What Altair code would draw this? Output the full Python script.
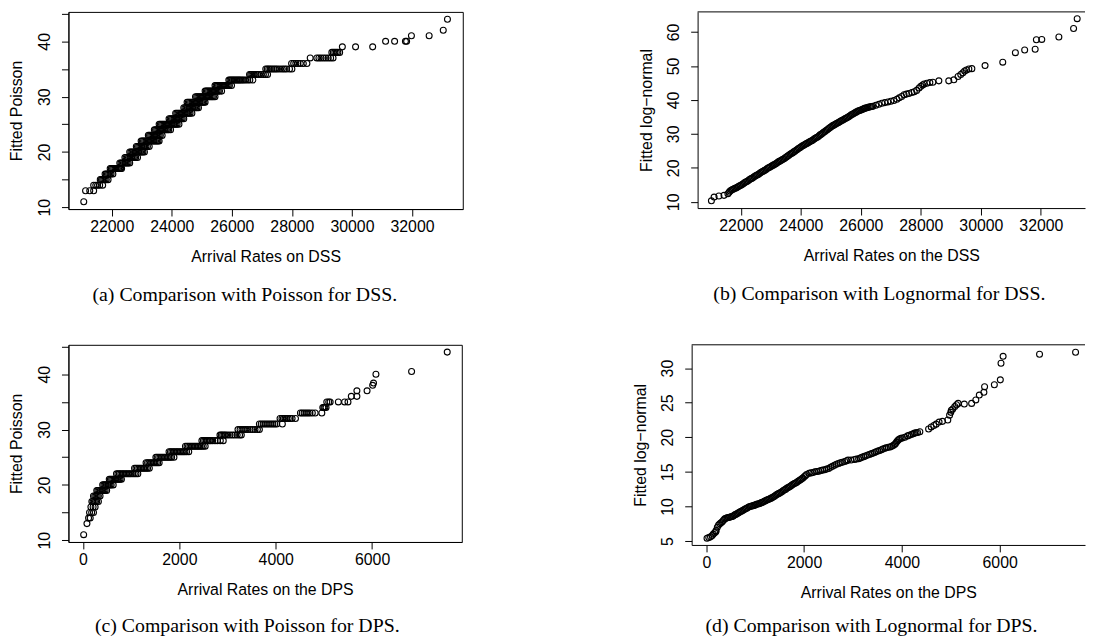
import altair as alt
import pandas as pd

SANS = "Liberation Sans"
SERIF = "Liberation Serif"

# ---------------- data ----------------
# (a) Fitted Poisson level -> arrival rates on DSS observed at that level
A_LEVELS = [11, 13, 14, 15, 16, 17, 18, 19, 20, 21, 22, 23, 24, 25, 26, 27, 28,
            29, 30, 31, 32, 33, 34, 35, 36, 37, 38, 39, 40, 41, 42, 44]
A_RATES = [
    [21070],
    [21130, 21270, 21400],
    [21400, 21470, 21530, 21600, 21700],
    [21620, 21660, 21700, 21740, 21780, 21820, 21880],
    [21780, 21820, 21860, 21900, 21940, 21980, 22040],
    [21950, 21990, 22030, 22070, 22110, 22150, 22190, 22230, 22270, 22300, 22330],
    [22270, 22310, 22350, 22390, 22430, 22470, 22510, 22550, 22600],
    [22440, 22480, 22520, 22560, 22600, 22640, 22680, 22720, 22760, 22800, 22860],
    [22600, 22640, 22680, 22720, 22760, 22800, 22840, 22880, 22920, 22960, 23000,
     23040, 23090],
    [22820, 22860, 22900, 22940, 22980, 23020, 23060, 23100, 23140, 23190, 23250],
    [22980, 23020, 23060, 23100, 23140, 23180, 23220, 23260, 23300, 23340, 23380,
     23420, 23460, 23500, 23540, 23580],
    [23220, 23260, 23300, 23340, 23380, 23420, 23460, 23500, 23540, 23580, 23620,
     23680],
    [23420, 23460, 23500, 23540, 23580, 23620, 23660, 23700, 23740, 23780, 23820,
     23860, 23900, 23960],
    [23580, 23620, 23660, 23700, 23740, 23780, 23820, 23860, 23900, 23940, 23980,
     24020, 24060, 24100, 24140, 24180, 24240],
    [23910, 23950, 23990, 24030, 24070, 24110, 24150, 24190, 24230, 24270, 24310,
     24350, 24400],
    [24130, 24170, 24210, 24250, 24290, 24330, 24370, 24410, 24450, 24490, 24530,
     24570, 24610, 24670],
    [24400, 24440, 24480, 24520, 24560, 24600, 24640, 24680, 24720, 24760, 24800,
     24840, 24890],
    [24510, 24550, 24590, 24630, 24670, 24710, 24750, 24790, 24830, 24870, 24910,
     24950, 24990, 25030, 25070, 25110],
    [24790, 24830, 24870, 24910, 24950, 24990, 25030, 25070, 25110, 25150, 25190,
     25230, 25270, 25310, 25350, 25390, 25440],
    [25110, 25150, 25190, 25230, 25270, 25310, 25350, 25390, 25430, 25470, 25510,
     25550, 25590, 25660],
    [25440, 25480, 25520, 25560, 25600, 25640, 25680, 25720, 25760, 25800, 25840,
     25880, 25920, 25990],
    [25900, 25940, 25980, 26020, 26060, 26100, 26140, 26180, 26220, 26260, 26300,
     26350, 26400, 26460, 26530, 26600, 26700],
    [26590, 26630, 26670, 26710, 26750, 26800, 26850, 26900, 26970, 27050, 27120,
     27190],
    [27130, 27180, 27230, 27280, 27340, 27400, 27460, 27520, 27600, 27680, 27750,
     27820, 27920, 28000],
    [27990, 28060, 28130, 28200, 28280, 28380, 28500],
    [28610, 28830, 28900, 28970, 29050, 29130, 29210, 29290, 29370],
    [29330, 29380, 29430, 29480, 29530, 29590],
    [29680, 30120, 30690],
    [31120, 31420, 31780, 31820],
    [31980, 32570],
    [33040],
    [33180],
]

# (b) arrival rates on the DSS vs fitted log-normal quantiles
B_RATES = [21020, 21110, 21270, 21440, 21570, 21610,
           21640, 21680, 21720, 21760, 21800, 21840, 21880, 21920, 21960, 22000,
           22040, 22080, 22120, 22160, 22200, 22240, 22280, 22320, 22360, 22400,
           22440, 22480, 22520, 22560, 22600, 22640, 22680, 22720, 22760, 22800,
           22840, 22880, 22920, 22960, 23000, 23040, 23080, 23120, 23160, 23200,
           23240, 23280, 23320, 23360, 23400, 23440, 23480, 23520, 23560, 23600,
           23640, 23680, 23720, 23760, 23800, 23840, 23880, 23920, 23960, 24000,
           24040, 24080, 24120, 24160, 24200, 24240, 24280, 24320, 24360, 24400,
           24440, 24480, 24520, 24560, 24600, 24640, 24680, 24720, 24760, 24800,
           24840, 24880, 24920, 24960, 25000, 25040, 25080, 25120, 25160, 25200,
           25240, 25280, 25320, 25360, 25400, 25440, 25480, 25520, 25560, 25600,
           25640, 25680, 25720, 25760, 25800, 25840, 25880, 25920, 25960, 26000,
           26040, 26080, 26120, 26160, 26200, 26240, 26280, 26320, 26360, 26400,
           26500, 26600, 26700, 26800, 26900, 27000, 27100, 27200, 27280, 27360,
           27440, 27520, 27600, 27700, 27780, 27860, 27940, 28000, 28060, 28110,
           28200, 28300, 28400, 28600, 28930, 29100, 29240, 29330, 29400, 29460,
           29520, 29600, 29700, 30140, 30730, 31150, 31460, 31810, 31850, 32030,
           32600, 33090, 33210]
B_FITTED = [10.3, 11.4, 11.7, 11.9, 12.4, 12.8,
            13.2, 13.4, 13.6, 13.8, 14.0, 14.1, 14.3, 14.5, 14.7, 14.9,
            15.1, 15.3, 15.6, 15.8, 16.0, 16.2, 16.5, 16.7, 16.9, 17.1,
            17.4, 17.6, 17.8, 18.0, 18.2, 18.5, 18.7, 18.9, 19.1, 19.3,
            19.5, 19.8, 20.0, 20.2, 20.4, 20.6, 20.8, 21.0, 21.2, 21.4,
            21.7, 21.9, 22.1, 22.3, 22.5, 22.7, 23.0, 23.2, 23.5, 23.7,
            24.0, 24.2, 24.4, 24.7, 24.9, 25.2, 25.4, 25.7, 25.9, 26.1,
            26.4, 26.6, 26.8, 27.0, 27.2, 27.4, 27.6, 27.8, 28.0, 28.2,
            28.5, 28.7, 28.9, 29.1, 29.4, 29.7, 29.9, 30.2, 30.5, 30.7,
            31.0, 31.2, 31.5, 31.8, 32.0, 32.3, 32.5, 32.7, 32.9, 33.1,
            33.3, 33.5, 33.7, 33.9, 34.1, 34.3, 34.5, 34.7, 34.9, 35.1,
            35.3, 35.6, 35.8, 36.0, 36.2, 36.4, 36.6, 36.8, 36.9, 37.0,
            37.2, 37.3, 37.5, 37.6, 37.7, 37.8, 37.9, 38.0, 38.05, 38.1,
            38.4, 38.7, 39.0, 39.2, 39.4, 39.6, 39.8, 40.2, 40.6, 41.0,
            41.5, 41.7, 41.9, 42.2, 42.4, 42.8, 43.5, 44.0, 44.4, 44.7,
            44.9, 45.1, 45.2, 45.6, 45.6, 45.9, 46.9, 47.5, 48.0, 48.5,
            48.8, 49.1, 49.2, 50.1, 51.1, 53.9, 54.7, 54.9, 57.7, 57.8,
            58.5, 61.0, 63.9]

# (c) Fitted Poisson level -> arrival rates on the DPS observed at that level
C_LEVELS = [11, 13, 14, 15, 16, 17, 18, 19, 20, 21, 22, 23, 24, 25, 26, 27, 28,
            29, 30, 31, 32, 33, 34, 35, 36, 37, 38, 38.4, 40, 40.5, 44]
C_RATES = [
    [14],
    [82],
    [116, 150],
    [136, 180, 218],
    [164, 210, 252],
    [184, 210, 235, 260, 285, 320],
    [218, 245, 270, 295, 320, 354],
    [286, 310, 335, 360, 385, 410, 435, 460, 491],
    [409, 435, 460, 485, 510, 535, 560, 585, 627],
    [545, 570, 595, 620, 645, 670, 695, 720, 745, 770, 798],
    [695, 725, 755, 785, 815, 845, 875, 905, 935, 965, 995, 1030, 1065, 1100, 1138],
    [1070, 1100, 1130, 1160, 1190, 1220, 1250, 1280, 1310, 1340, 1377],
    [1309, 1340, 1370, 1400, 1430, 1460, 1490, 1520, 1550, 1581],
    [1513, 1540, 1570, 1600, 1630, 1660, 1690, 1720, 1750, 1780, 1810, 1840, 1888],
    [1786, 1815, 1845, 1875, 1905, 1935, 1965, 1995, 2025, 2055, 2085, 2115, 2150,
     2195],
    [2127, 2160, 2190, 2220, 2250, 2280, 2310, 2340, 2370, 2400, 2430, 2460, 2495,
     2536],
    [2468, 2500, 2530, 2560, 2590, 2620, 2650, 2690, 2740, 2790, 2850, 2911],
    [2843, 2870, 2900, 2930, 2960, 3000, 3050, 3100, 3150, 3200, 3250, 3286],
    [3217, 3260, 3300, 3340, 3380, 3420, 3470, 3520, 3570, 3620, 3661],
    [3661, 3700, 3740, 3780, 3820, 3860, 3900, 3940, 3980, 4020, 4138],
    [4090, 4130, 4160, 4190, 4220, 4260, 4300, 4340, 4410],
    [4513, 4550, 4590, 4630, 4670, 4710, 4760, 4819, 4957],
    [4977, 5000, 5020, 5045],
    [5060, 5100, 5130, 5300, 5430, 5500],
    [5569, 5685],
    [5685, 5896],
    [6012],
    [6030],
    [6080],
    [6820],
    [7560],
]

# (d) arrival rates on the DPS vs fitted log-normal quantiles
D_RATES = [14, 50, 86, 120, 143, 170, 193,
           200, 225, 250, 275, 300, 325, 350, 375, 400, 425, 450, 475, 500, 525,
           550, 575, 600, 625, 650, 675, 700, 725, 750, 775, 800, 825, 850, 875,
           900, 925, 950, 975, 1000, 1025, 1050, 1075, 1100, 1125, 1150, 1175, 1200,
           1225, 1250, 1275, 1300, 1325, 1350, 1375, 1400, 1425, 1450, 1475, 1500,
           1525, 1550, 1575, 1600, 1625, 1650, 1675, 1700, 1725, 1750, 1775, 1800,
           1825, 1850, 1875, 1900, 1925, 1950, 1975, 2000, 2025, 2050,
           2100, 2140, 2180, 2220, 2260, 2300, 2340, 2380, 2420, 2460, 2500, 2540,
           2580, 2620, 2660, 2700, 2740, 2780, 2830, 2870, 2899, 2960, 3030, 3070,
           3114, 3150, 3180, 3220, 3250, 3290, 3329, 3370, 3400, 3440, 3470, 3510,
           3543, 3580, 3610, 3650, 3680, 3720, 3758, 3790, 3820, 3850, 3870, 3890,
           3910, 3930, 3950, 3980, 4009, 4060, 4116, 4150, 4190, 4230, 4259, 4290,
           4320, 4367, 4546, 4600, 4653, 4700, 4760, 4830, 4939, 4975, 5000, 5011,
           5040, 5082, 5118, 5150, 5276, 5426, 5512, 5583, 5677, 5691, 5891, 6013,
           6027, 6070, 6815, 7552]
D_FITTED = [5.4, 5.5, 5.6, 5.8, 6.0, 6.2, 6.35,
            6.5, 7.0, 7.3, 7.5, 7.65, 7.8, 8.0, 8.2, 8.3, 8.35, 8.4, 8.45, 8.5, 8.55,
            8.6, 8.75, 8.85, 8.95, 9.05, 9.15, 9.25, 9.35, 9.45, 9.55, 9.65, 9.75, 9.85, 9.95,
            10.0, 10.05, 10.1, 10.15, 10.2, 10.3, 10.35, 10.4, 10.45, 10.55, 10.6, 10.7, 10.8,
            10.9, 10.95, 11.05, 11.1, 11.2, 11.3, 11.4, 11.5, 11.65, 11.75, 11.85, 11.95,
            12.05, 12.15, 12.3, 12.4, 12.5, 12.65, 12.75, 12.85, 12.95, 13.1, 13.2, 13.3,
            13.4, 13.5, 13.65, 13.75, 13.85, 14.0, 14.1, 14.3, 14.45, 14.6,
            14.8, 14.85, 14.9, 15.0, 15.05, 15.1, 15.2, 15.25, 15.3, 15.4, 15.5, 15.65,
            15.8, 15.95, 16.1, 16.2, 16.3, 16.4, 16.5, 16.6, 16.7, 16.7, 16.8, 16.85,
            16.9, 17.0, 17.1, 17.2, 17.3, 17.4, 17.5, 17.6, 17.7, 17.8, 17.9, 18.0,
            18.1, 18.2, 18.3, 18.4, 18.5, 18.55, 18.6, 18.7, 18.8, 18.95, 19.1, 19.3,
            19.5, 19.65, 19.75, 19.85, 19.9, 20.0, 20.2, 20.3, 20.4, 20.5, 20.6, 20.65,
            20.7, 20.8, 21.2, 21.5, 21.7, 21.9, 22.2, 22.3, 22.5, 23.2, 23.6, 23.9,
            24.1, 24.45, 24.7, 24.9, 24.8, 24.9, 25.4, 26.1, 26.5, 27.3, 27.6, 28.3,
            30.7, 31.7, 32.0, 32.3]

# axis ticks
DSS_XTICKS = [22000, 24000, 26000, 28000, 30000, 32000]
DPS_XTICKS = [0, 2000, 4000, 6000]
POIS_YTICKS = [10, 15, 20, 25, 30, 35, 40, 45]
LN_DSS_YTICKS = [10, 20, 30, 40, 50, 60]
LN_DPS_YTICKS = [5, 10, 15, 20, 25, 30]


def rows_to_df(levels, rates):
    xs, ys = [], []
    for lv, rs in zip(levels, rates):
        for r in rs:
            xs.append(r)
            ys.append(lv)
    return pd.DataFrame({"x": xs, "y": ys})


def panel(df, xdom, ydom, xticks, yticks, xtitle, ytitle, caption, w, h,
          cap_dx, cap_offset, open_right, only_tens=False):
    xaxis = alt.Axis(values=xticks, format="d", title=xtitle, grid=False,
                     tickSize=7, tickColor="black", tickWidth=1,
                     domainColor="black", domainWidth=1,
                     labelFont=SANS, labelFontSize=16, labelColor="black",
                     labelPadding=3, labelFlush=False, labelOverlap=False,
                     titleFont=SANS, titleFontSize=16, titleFontWeight="normal",
                     titleColor="black", titlePadding=14)
    ykw = dict(values=yticks, format="d", title=ytitle, grid=False,
               tickSize=7, tickColor="black", tickWidth=1,
               domainColor="black", domainWidth=1,
               labelFont=SANS, labelFontSize=16, labelColor="black",
               labelAngle=270, labelAlign="center", labelBaseline="alphabetic",
               labelPadding=12, labelFlush=False, labelOverlap=False,
               titleFont=SANS, titleFontSize=16, titleFontWeight="normal",
               titleColor="black", titlePadding=12)
    if only_tens:
        ykw["labelExpr"] = "datum.value % 10 == 0 ? datum.label : ''"
    yaxis = alt.Axis(**ykw)

    pts = alt.Chart(df).mark_point(
        shape="circle", filled=False, color="black", size=36,
        strokeWidth=1.1, opacity=1
    ).encode(
        x=alt.X("x:Q", scale=alt.Scale(domain=xdom, nice=False, zero=False), axis=xaxis),
        y=alt.Y("y:Q", scale=alt.Scale(domain=ydom, nice=False, zero=False), axis=yaxis),
    )
    layers = [pts]
    if open_right:
        top = alt.Chart(pd.DataFrame({"k": [0]})).mark_rule(
            color="black", strokeWidth=1
        ).encode(x=alt.value(0), x2=alt.value(w), y=alt.value(0))
        layers.append(top)
    ch = alt.layer(*layers).properties(
        width=w, height=h,
        title=alt.TitleParams(text=caption, orient="bottom", anchor="middle",
                              frame="group", font=SERIF, fontSize=20,
                              fontWeight="normal", color="black",
                              offset=cap_offset, dx=cap_dx),
    )
    if open_right:
        ch = ch.properties(view=alt.ViewBackground(stroke="transparent"))
    return ch


df_a = rows_to_df(A_LEVELS, A_RATES)
df_b = pd.DataFrame({"x": B_RATES, "y": B_FITTED})
df_c = rows_to_df(C_LEVELS, C_RATES)
df_d = pd.DataFrame({"x": D_RATES, "y": D_FITTED})

pa = panel(df_a, [20560, 33690], [9.68, 45.32], DSS_XTICKS, POIS_YTICKS,
           "Arrival Rates on DSS", "Fitted Poisson",
           "(a) Comparison with Poisson for DSS.", 398, 199, -21, 21, False, True)
pb = panel(df_b, [20560, 33471], [8.16, 65.9], DSS_XTICKS, LN_DSS_YTICKS,
           "Arrival Rates on the DSS", "Fitted log\u2212normal",
           "(b) Comparison with Lognormal for DSS.", 391, 198, -12, 21, True)
pc = panel(df_c, [-302, 7862], [9.68, 45.32], DPS_XTICKS, POIS_YTICKS,
           "Arrival Rates on the DPS", "Fitted Poisson",
           "(c) Comparison with Poisson for DPS.", 397, 199, -18, 19, False, True)
pd_ = panel(df_d, [-300, 7745], [4.43, 33.37], DPS_XTICKS, LN_DPS_YTICKS,
            "Arrival Rates on the DPS", "Fitted log\u2212normal",
            "(d) Comparison with Lognormal for DPS.", 397, 202, -17, 16, True)

row1 = alt.hconcat(pa, pb, spacing=175)
row2 = alt.hconcat(pc, pd_, spacing=170)
chart = alt.vconcat(row1, row2, spacing=38).properties(
    padding={"left": 0, "top": 0, "right": 0, "bottom": 0},
    background="white",
).configure_view(stroke="black", strokeWidth=1)

chart.save("out.html", embed_options={"renderer": "svg", "actions": False})
